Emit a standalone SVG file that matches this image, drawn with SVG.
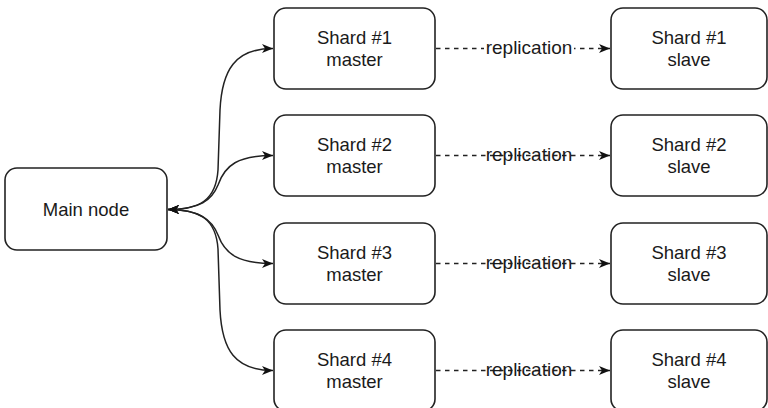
<svg xmlns="http://www.w3.org/2000/svg" width="768" height="408" viewBox="0 0 768 408">
<style>
.box{fill:#fff;stroke:#222;stroke-width:1.6}
.t{font-family:"Liberation Sans",Arial,sans-serif;font-size:18.5px;fill:#1a1a1a;text-anchor:middle}
.lbl{font-family:"Liberation Sans",Arial,sans-serif;font-size:19px;fill:#1a1a1a;text-anchor:middle}
.edge{fill:none;stroke:#222;stroke-width:1.5}
.dash{fill:none;stroke:#222;stroke-width:1.5;stroke-dasharray:4.5 4.5}
</style>
<defs>
<marker id="arr" markerUnits="userSpaceOnUse" markerWidth="12" markerHeight="10" refX="11" refY="4.5" orient="auto-start-reverse">
<path d="M0,0 L11,4.5 L0,9 L3,4.5 z" fill="#111"/>
</marker>
</defs>
<rect width="768" height="408" fill="#fff"/>
<g id="connectors">
<path class="edge" d="M168,209.5 C200,209.5 216,200 218,170 L220,110 C222,70 235,48.5 273,48.5" marker-start="url(#arr)" marker-end="url(#arr)"/>
<path class="edge" d="M168,209.5 C200,209.5 212,200 218,185 C225,165 238,155.5 273,155.5" marker-start="url(#arr)" marker-end="url(#arr)"/>
<path class="edge" d="M168,209.5 C200,209.5 212,220 218,235 C225,254 238,263.5 273,263.5" marker-start="url(#arr)" marker-end="url(#arr)"/>
<path class="edge" d="M168,209.5 C200,209.5 216,219 218,249 L220,310 C222,350 235,370.5 273,370.5" marker-start="url(#arr)" marker-end="url(#arr)"/>
<path class="dash" d="M436,48.5 L610,48.5" marker-end="url(#arr)"/>
<path class="dash" d="M436,155.5 L610,155.5" marker-end="url(#arr)"/>
<path class="dash" d="M436,263.5 L610,263.5" marker-end="url(#arr)"/>
<path class="dash" d="M436,370.5 L610,370.5" marker-end="url(#arr)"/>
<rect x="484" y="38" width="90" height="21" fill="#fff"/>
<text class="lbl" x="529" y="54">replication</text>
<text class="lbl" x="529" y="161">replication</text>
<text class="lbl" x="529" y="269">replication</text>
<text class="lbl" x="529" y="376">replication</text>
</g>
<g id="main"><rect class="box" x="5" y="168" width="162" height="82" rx="12"/><text class="t" x="86" y="216">Main node</text></g>
<g id="m1"><rect class="box" x="274" y="8" width="161" height="81" rx="12"/><text class="t" x="354.5" y="44">Shard #1</text><text class="t" x="354.5" y="66">master</text></g>
<g id="m2"><rect class="box" x="274" y="115" width="161" height="81" rx="12"/><text class="t" x="354.5" y="151">Shard #2</text><text class="t" x="354.5" y="173">master</text></g>
<g id="m3"><rect class="box" x="274" y="223" width="161" height="81" rx="12"/><text class="t" x="354.5" y="259">Shard #3</text><text class="t" x="354.5" y="281">master</text></g>
<g id="m4"><rect class="box" x="274" y="330" width="161" height="81" rx="12"/><text class="t" x="354.5" y="366">Shard #4</text><text class="t" x="354.5" y="388">master</text></g>
<g id="s1"><rect class="box" x="611" y="8" width="156" height="81" rx="12"/><text class="t" x="689" y="44">Shard #1</text><text class="t" x="689" y="66">slave</text></g>
<g id="s2"><rect class="box" x="611" y="115" width="156" height="81" rx="12"/><text class="t" x="689" y="151">Shard #2</text><text class="t" x="689" y="173">slave</text></g>
<g id="s3"><rect class="box" x="611" y="223" width="156" height="81" rx="12"/><text class="t" x="689" y="259">Shard #3</text><text class="t" x="689" y="281">slave</text></g>
<g id="s4"><rect class="box" x="611" y="330" width="156" height="81" rx="12"/><text class="t" x="689" y="366">Shard #4</text><text class="t" x="689" y="388">slave</text></g>
</svg>
